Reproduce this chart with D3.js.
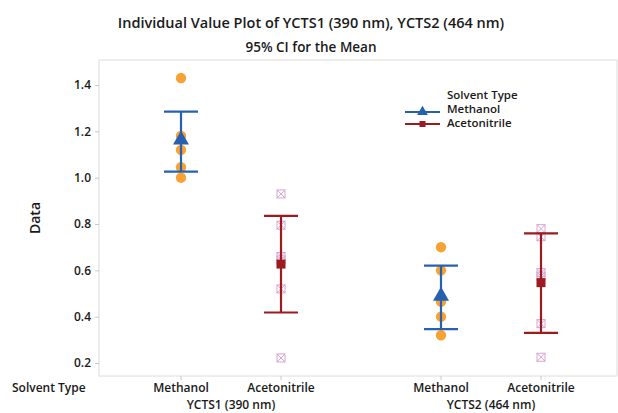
<!DOCTYPE html>
<html>
<head>
<meta charset="utf-8">
<script src="https://cdn.jsdelivr.net/npm/d3@7"></script>
<style>
  body { margin: 0; background: #fff; }
  text { font-family: "Open Sans", "Noto Sans", sans-serif; fill: #1a1a1a; }
</style>
</head>
<body>
<div id="chart"></div>
<script>
var groups = ["YCTS1 (390 nm)", "YCTS2 (464 nm)"];
var solvents = ["Methanol", "Acetonitrile"];
var yTicks = [0.2, 0.4, 0.6, 0.8, 1.0, 1.2, 1.4];

// individual values
var ycts1Methanol = [1.43, 1.18, 1.12, 1.045, 1.0];
var ycts1Acetonitrile = [0.93, 0.795, 0.66, 0.645, 0.52, 0.222];
var ycts2Methanol = [0.70, 0.60, 0.465, 0.40, 0.32];
var ycts2Acetonitrile = [0.78, 0.745, 0.59, 0.575, 0.37, 0.225];

// mean and 95% CI (low, high)
var means = [1.163, 0.627, 0.489, 0.547];
var ciLow = [1.026, 0.418, 0.346, 0.33];
var ciHigh = [1.285, 0.835, 0.62, 0.76];

var cells = [
    {group: groups[0], solvent: solvents[0], values: ycts1Methanol},
    {group: groups[0], solvent: solvents[1], values: ycts1Acetonitrile},
    {group: groups[1], solvent: solvents[0], values: ycts2Methanol},
    {group: groups[1], solvent: solvents[1], values: ycts2Acetonitrile}
];
cells.forEach(function(d, i) {
    d.mean = means[i];
    d.lo = ciLow[i];
    d.hi = ciHigh[i];
});

var width = 618, height = 413,
    plot = {left: 99, right: 617, top: 60, bottom: 376};

var blue = "#2660b0", red = "#9b1b20", orange = "#f8a233", pink = "#d8a3d3";

var svg = d3.select("#chart").append("svg")
    .attr("width", width)
    .attr("height", height);

var y = d3.scaleLinear().domain([0.144, 1.508]).range([plot.bottom, plot.top]);
var xGroup = d3.scaleBand().domain(groups).range([plot.left + 2, plot.right + 4]);
var xInner = d3.scalePoint().domain(solvents).range([-50, 50]);

function xPos(d) {
    return xGroup(d.group) + xGroup.bandwidth() / 2 + xInner(d.solvent);
}

/*
 * Titles
 */
svg.append("text")
    .attr("x", 311).attr("y", 28)
    .attr("text-anchor", "middle")
    .style("font-size", "14.5px")
    .style("font-weight", 600)
    .text("Individual Value Plot of YCTS1 (390 nm), YCTS2 (464 nm)");

svg.append("text")
    .attr("x", 311).attr("y", 52)
    .attr("text-anchor", "middle")
    .style("font-size", "13.5px")
    .style("font-weight", 600)
    .text("95% CI for the Mean");

/*
 * Frame and axes
 */
svg.append("rect")
    .attr("x", plot.left).attr("y", plot.top)
    .attr("width", plot.right - plot.left)
    .attr("height", plot.bottom - plot.top)
    .attr("fill", "none")
    .attr("stroke", "#dcdcdc");

var yAxis = svg.append("g")
    .attr("transform", "translate(" + plot.left + ",0)")
    .call(d3.axisLeft(y).tickValues(yTicks).tickSize(4).tickPadding(4).tickFormat(d3.format(".1f")));
yAxis.select(".domain").remove();
yAxis.selectAll("line").attr("stroke", "#c8c8c8");
yAxis.selectAll("text")
    .style("font-size", "12px")
    .style("font-weight", 600)
    .style("font-family", "'Open Sans', sans-serif")
    .attr("fill", "#1a1a1a");

svg.append("text")
    .attr("transform", "translate(40," + (plot.top + plot.bottom) / 2 + ") rotate(-90)")
    .attr("text-anchor", "middle")
    .style("font-size", "14px")
    .style("font-weight", 600)
    .text("Data");

var xTicks = svg.append("g").selectAll("g")
    .data(cells)
    .enter().append("g")
    .attr("transform", function(d) { return "translate(" + xPos(d) + ",0)"; });

xTicks.append("line")
    .attr("y1", plot.bottom).attr("y2", plot.bottom + 4)
    .attr("stroke", "#c8c8c8");

xTicks.append("text")
    .attr("y", 392)
    .attr("text-anchor", "middle")
    .style("font-size", "12px")
    .style("font-weight", 600)
    .text(function(d) { return d.solvent; });

svg.append("text")
    .attr("x", 12).attr("y", 392)
    .style("font-size", "12px")
    .style("font-weight", 600)
    .text("Solvent Type");

svg.selectAll("text.group")
    .data(groups)
    .enter().append("text")
    .attr("class", "group")
    .attr("x", function(d) { return xGroup(d) + xGroup.bandwidth() / 2; })
    .attr("y", 409)
    .attr("text-anchor", "middle")
    .style("font-size", "12px")
    .style("font-weight", 600)
    .text(function(d) { return d; });

/*
 * Individual values
 */
var points = [];
cells.forEach(function(c) {
    c.values.forEach(function(v) {
        points.push({group: c.group, solvent: c.solvent, value: v});
    });
});

var dots = svg.append("g").selectAll("g")
    .data(points)
    .enter().append("g")
    .attr("transform", function(d) { return "translate(" + xPos(d) + "," + y(d.value) + ")"; });

dots.filter(function(d) { return d.solvent === "Methanol"; })
    .append("circle")
    .attr("r", 5.2)
    .attr("fill", orange);

var crossed = dots.filter(function(d) { return d.solvent === "Acetonitrile"; });
crossed.append("rect")
    .attr("x", -4).attr("y", -4)
    .attr("width", 8).attr("height", 8)
    .attr("fill", "none")
    .attr("stroke", pink)
    .attr("stroke-width", 1);
crossed.append("path")
    .attr("d", "M-4,-4L4,4M4,-4L-4,4")
    .attr("stroke", pink)
    .attr("stroke-width", 1);

/*
 * CI bars and means
 */
var ci = svg.append("g").selectAll("g")
    .data(cells)
    .enter().append("g")
    .attr("transform", function(d) { return "translate(" + xPos(d) + ",0)"; })
    .attr("stroke", function(d) { return d.solvent === "Methanol" ? blue : red; })
    .attr("stroke-width", 2.2);

ci.append("line")
    .attr("y1", function(d) { return y(d.lo); })
    .attr("y2", function(d) { return y(d.hi); });
ci.append("line")
    .attr("x1", -17).attr("x2", 17)
    .attr("y1", function(d) { return y(d.hi); })
    .attr("y2", function(d) { return y(d.hi); });
ci.append("line")
    .attr("x1", -17).attr("x2", 17)
    .attr("y1", function(d) { return y(d.lo); })
    .attr("y2", function(d) { return y(d.lo); });

ci.append("path")
    .attr("transform", function(d) { return "translate(0," + y(d.mean) + ")"; })
    .attr("d", function(d) {
        return d.solvent === "Methanol"
            ? d3.symbol(d3.symbolTriangle, 110)()
            : "M-4.5,-4.5H4.5V4.5H-4.5Z";
    })
    .attr("fill", function(d) { return d.solvent === "Methanol" ? blue : red; })
    .attr("stroke", "none");

/*
 * Legend
 */
var legend = svg.append("g").attr("transform", "translate(405,0)");
legend.append("text")
    .attr("x", 42).attr("y", 99)
    .style("font-size", "11.5px")
    .style("font-weight", 600)
    .text("Solvent Type");

var items = legend.selectAll("g.item")
    .data(solvents)
    .enter().append("g")
    .attr("class", "item")
    .attr("transform", function(d, k) { return "translate(0," + (112 + k * 12) + ")"; });

items.append("line")
    .attr("x1", 0).attr("x2", 35)
    .attr("stroke", function(d) { return d === "Methanol" ? blue : red; })
    .attr("stroke-width", 2);
items.append("path")
    .attr("transform", "translate(17.5,0)")
    .attr("d", function(d) {
        return d === "Methanol" ? d3.symbol(d3.symbolTriangle, 50)() : "M-3,-3H3V3H-3Z";
    })
    .attr("fill", function(d) { return d === "Methanol" ? blue : red; });
items.append("text")
    .attr("x", 42)
    .attr("y", function(d, k) { return k === 0 ? 1 : 3; })
    .style("font-size", "11.5px")
    .style("font-weight", 600)
    .text(function(d) { return d; });
</script>
</body>
</html>
